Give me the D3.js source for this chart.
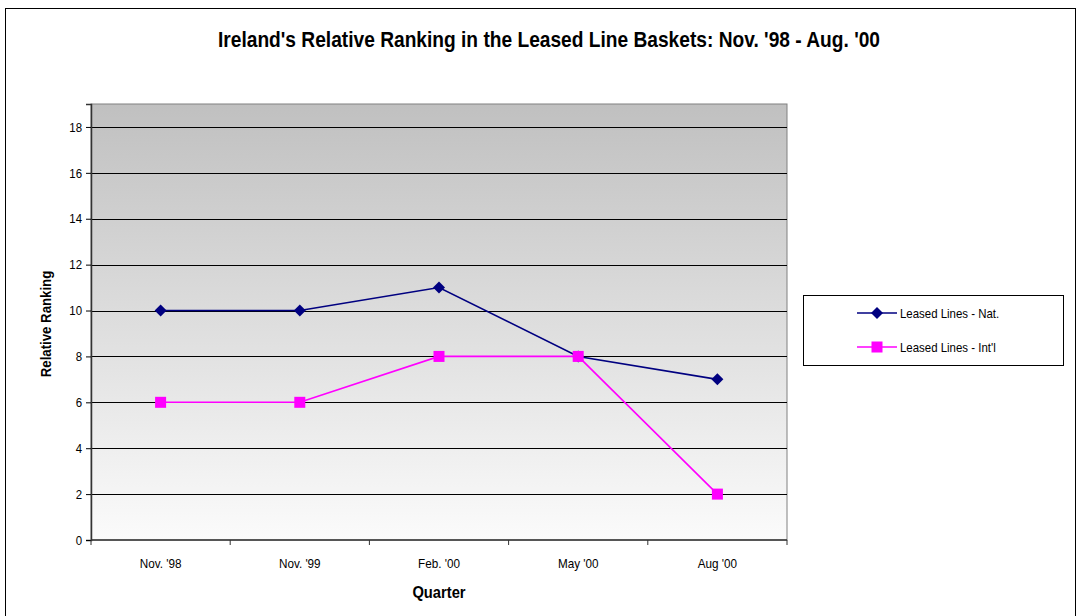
<!DOCTYPE html>
<html>
<head>
<meta charset="utf-8">
<script src="https://cdn.jsdelivr.net/npm/d3@7"></script>
<style>
  html, body { margin: 0; padding: 0; background: #fff; }
  svg { display: block; font-family: "Liberation Sans", Arial, sans-serif; }
</style>
</head>
<body>
<svg id="chart" width="1078" height="616"></svg>
<script>
// Quarters along the horizontal axis
const quarters = ["Nov. '98", "Nov. '99", "Feb. '00", "May '00", "Aug '00"];
// Relative ranking per leased line basket
const nationalRank = [10, 10, 11, 8, 7];
const internationalRank = [6, 6, 8, 8, 2];
// Vertical axis ticks
const rankTicks = [0, 2, 4, 6, 8, 10, 12, 14, 16, 18];
const seriesNames = ["Leased Lines - Nat.", "Leased Lines - Int'l"];

const svg = d3.select("#chart");
const W = 1078, H = 616;
const plot = { left: 91, top: 104, right: 787, bottom: 540 };

// Narrow the glyphs of a text selection horizontally, keeping its anchor
function condense(sel, factor) {
  sel.each(function () {
    const len = this.getComputedTextLength();
    d3.select(this).attr("textLength", len * factor).attr("lengthAdjust", "spacingAndGlyphs");
  });
}

// Outer chart frame
svg.append("rect").attr("x", 5.5).attr("y", 8.5).attr("width", W - 8).attr("height", H)
  .attr("fill", "#fff").attr("stroke", "#000").attr("stroke-width", 1);

// Plot background gradient
const defs = svg.append("defs");
const grad = defs.append("linearGradient").attr("id", "bg").attr("x1", 0).attr("y1", 0).attr("x2", 0).attr("y2", 1);
grad.append("stop").attr("offset", "0%").attr("stop-color", "#c0c0c0");
grad.append("stop").attr("offset", "100%").attr("stop-color", "#fbfbfb");

const x = d3.scaleBand().domain(quarters).range([plot.left, plot.right]).padding(0);
const y = d3.scaleLinear().domain([0, 19]).range([plot.bottom, plot.top]);

svg.append("rect").attr("x", plot.left).attr("y", plot.top)
  .attr("width", plot.right - plot.left).attr("height", plot.bottom - plot.top)
  .attr("fill", "url(#bg)").attr("stroke", "#808080").attr("stroke-width", 1);

// Horizontal gridlines
svg.append("g").selectAll("line").data(rankTicks.filter(d => d > 0)).join("line")
  .attr("x1", plot.left).attr("x2", plot.right)
  .attr("y1", d => Math.round(y(d)) + 0.5).attr("y2", d => Math.round(y(d)) + 0.5)
  .attr("stroke", "#000").attr("stroke-width", 1);

// Y axis
const yAxis = svg.append("g").attr("transform", `translate(${plot.left},0)`)
  .call(d3.axisLeft(y).tickValues(rankTicks).tickSize(5).tickPadding(4));
yAxis.select(".domain").attr("stroke", "#333").attr("stroke-width", 1.5);
yAxis.selectAll("text").attr("font-size", 13).attr("fill", "#000")
  .attr("font-family", "Liberation Sans, Arial, sans-serif").call(condense, 0.88);

// X axis with ticks between categories
const xAxisG = svg.append("g").attr("transform", `translate(0,${plot.bottom})`);
xAxisG.append("line").attr("x1", plot.left).attr("x2", plot.right).attr("y1", 0).attr("y2", 0)
  .attr("stroke", "#333").attr("stroke-width", 1.5);
const boundaries = quarters.map(q => x(q)).concat([plot.right]);
xAxisG.selectAll("line.tick").data(boundaries).join("line").attr("class", "tick")
  .attr("x1", d => d).attr("x2", d => d).attr("y1", 0).attr("y2", 5).attr("stroke", "#333");
xAxisG.selectAll("text").data(quarters).join("text")
  .attr("x", d => x(d) + x.bandwidth() / 2).attr("y", 28)
  .attr("text-anchor", "middle").attr("font-size", 13).text(d => d).call(condense, 0.9);

// Axis titles
svg.append("text").attr("x", (plot.left + plot.right) / 2).attr("y", 598)
  .attr("text-anchor", "middle").attr("font-size", 16).attr("font-weight", "bold").text("Quarter")
  .call(condense, 0.92);
svg.append("text").attr("transform", `translate(51,${(plot.top + plot.bottom) / 2 + 2}) rotate(-90)`)
  .attr("text-anchor", "middle").attr("font-size", 15).attr("font-weight", "bold").text("Relative Ranking")
  .call(condense, 0.88);

// Title
svg.append("text").attr("x", 549).attr("y", 47).attr("text-anchor", "middle")
  .attr("font-size", 22).attr("font-weight", "bold")
  .text("Ireland's Relative Ranking in the Leased Line Baskets: Nov. '98 - Aug. '00")
  .attr("textLength", 662).attr("lengthAdjust", "spacingAndGlyphs");

const cx = q => x(q) + x.bandwidth() / 2;
const line = d3.line().x((d, i) => cx(quarters[i])).y(d => y(d));

// Diamond marker: a square turned 45 degrees
const diamondPath = "M0,-6L6,0L0,6L-6,0Z";

// National series
svg.append("path").datum(nationalRank).attr("d", line)
  .attr("fill", "none").attr("stroke", "#000080").attr("stroke-width", 1.6);
svg.append("g").selectAll("path").data(nationalRank).join("path")
  .attr("transform", (d, i) => `translate(${cx(quarters[i])},${y(d)})`)
  .attr("d", diamondPath).attr("fill", "#000080");

// International series
svg.append("path").datum(internationalRank).attr("d", line)
  .attr("fill", "none").attr("stroke", "#ff00ff").attr("stroke-width", 1.6);
svg.append("g").selectAll("rect").data(internationalRank).join("rect")
  .attr("x", (d, i) => cx(quarters[i]) - 5.5).attr("y", d => y(d) - 5.5)
  .attr("width", 11).attr("height", 11).attr("fill", "#ff00ff");

// Legend
const lg = svg.append("g");
lg.append("rect").attr("x", 803.5).attr("y", 295.5).attr("width", 260).attr("height", 70)
  .attr("fill", "#fff").attr("stroke", "#000");
const legendRows = [
  { name: seriesNames[0], color: "#000080", shape: "diamond", yy: 313 },
  { name: seriesNames[1], color: "#ff00ff", shape: "square", yy: 347 }
];
legendRows.forEach(r => {
  lg.append("line").attr("x1", 857).attr("x2", 897).attr("y1", r.yy).attr("y2", r.yy)
    .attr("stroke", r.color).attr("stroke-width", 1.6);
  if (r.shape === "diamond") {
    lg.append("path").attr("transform", `translate(877,${r.yy})`).attr("d", diamondPath).attr("fill", r.color);
  } else {
    lg.append("rect").attr("x", 871.5).attr("y", r.yy - 5.5).attr("width", 11).attr("height", 11).attr("fill", r.color);
  }
  lg.append("text").attr("x", 900).attr("y", r.yy + 4.5).attr("font-size", 13).text(r.name)
    .call(condense, 0.88);
});
</script>
</body>
</html>
